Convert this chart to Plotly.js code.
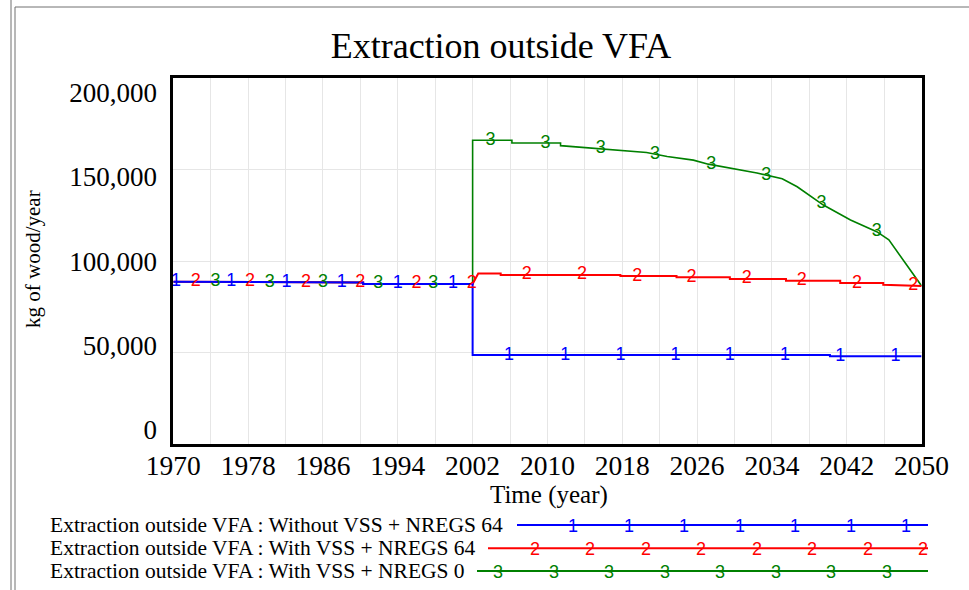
<!DOCTYPE html>
<html>
<head>
<meta charset="utf-8">
<script src="https://cdn.plot.ly/plotly-3.0.1.min.js"></script>
<style>
html,body{margin:0;padding:0;background:#fff;}
#chart{width:969px;height:590px;}
</style>
</head>
<body>
<div id="chart"></div>
<script>
// ---------------- DATA ----------------
const seriesNames = [
  "Extraction outside VFA : Without VSS + NREGS 64",
  "Extraction outside VFA : With VSS + NREGS 64",
  "Extraction outside VFA : With VSS + NREGS 0"
];
const seriesColors = ["#0000ff", "#ff0000", "#008000"];

// Series 1 : Without VSS + NREGS 64
const years1 = [1970, 1979.3, 1979.3, 1990.3, 1990.3, 2002, 2002, 2040.2, 2040.2, 2050];
const values1 = [88700, 88700, 88300, 88300, 87500, 87500, 48700, 48700, 48100, 48100];

// Series 2 : With VSS + NREGS 64
const years2 = [1970, 1979.3, 1979.3, 1990.3, 1990.3, 2002, 2002.6, 2005, 2005, 2017.8, 2017.8,
                2023.8, 2023.8, 2029.5, 2029.5, 2035.5, 2035.5, 2041.3, 2041.3, 2045.9, 2045.9, 2050];
const values2 = [88700, 88700, 88300, 88300, 87500, 87500, 93200, 93200, 92400, 92400, 91800,
                 91800, 91100, 91100, 90200, 90200, 89200, 89200, 88000, 88000, 87000, 86400];

// Series 3 : With VSS + NREGS 0
const years3 = [1970, 1979.3, 1979.3, 1990.3, 1990.3, 2002, 2002, 2006.2, 2006.2, 2011.4, 2011.4,
                2013.3, 2016.7, 2020.6, 2022.8, 2025.6, 2027.2, 2029.9, 2032.4, 2035.1, 2036.7,
                2039.5, 2042.4, 2045.2, 2046.5, 2050];
const values3 = [88700, 88700, 88300, 88300, 87500, 87500, 165800, 165800, 164300, 164300, 162900,
                 162200, 160600, 159200, 157000, 155000, 152800, 150500, 148000, 144800, 140500,
                 130500, 122400, 116000, 111500, 86400];

// Years where the numbered series markers sit along each line
const markerYears1 = [1970.3, 1976.2, 1982.1, 1988, 1994, 1999.9, 2005.9, 2011.9, 2017.8, 2023.7, 2029.5, 2035.4, 2041.3, 2047.2];
const markerYears2 = [1972.4, 1978.2, 1984.2, 1990, 1996, 2001.9, 2007.8, 2013.7, 2019.6, 2025.4, 2031.3, 2037.2, 2043.1, 2049.1];
const markerYears3 = [1974.5, 1980.3, 1986, 1991.9, 1997.8, 2003.9, 2009.8, 2015.7, 2021.5, 2027.5, 2033.4, 2039.3, 2045.2];

const yTickValues = [0, 50000, 100000, 150000, 200000];
const xTickValues = [1970, 1978, 1986, 1994, 2002, 2010, 2018, 2026, 2034, 2042, 2050];

// ---------------- helpers ----------------
const W = 969, H = 590;
const px = x => x / W;
const py = y => 1 - y / H;
function valueAt(xs, ys, t) {
  let v = ys[0];
  for (let i = 0; i < xs.length - 1; i++) {
    if (t >= xs[i] && t <= xs[i + 1]) {
      const d = xs[i + 1] - xs[i];
      v = d === 0 ? ys[i + 1] : ys[i] + (ys[i + 1] - ys[i]) * (t - xs[i]) / d;
      if (t < xs[i + 1]) break;
    }
  }
  return v;
}

const serif = "Liberation Serif, Times New Roman, serif";
const sans = "Liberation Sans, Arial, sans-serif";

const lineSets = [
  {x: years1, y: values1, m: markerYears1, label: "1", w: 2},
  {x: years2, y: values2, m: markerYears2, label: "2", w: 2},
  {x: years3, y: values3, m: markerYears3, label: "3", w: 1.6}
];

const traces = [];
[2, 1, 0].forEach(i => {
  const s = lineSets[i];
  traces.push({
    x: s.x, y: s.y, type: "scatter", mode: "lines",
    line: {color: seriesColors[i], width: s.w},
    hoverinfo: "skip", showlegend: false, name: seriesNames[i]
  });
});
[2, 1, 0].forEach(i => {
  const s = lineSets[i];
  traces.push({
    x: s.m, y: s.m.map(t => valueAt(s.x, s.y, t)),
    type: "scatter", mode: "text",
    text: s.m.map(() => s.label), textposition: "middle center",
    textfont: {family: sans, size: 18, color: seriesColors[i]},
    cliponaxis: false, hoverinfo: "skip", showlegend: false
  });
});
// empty trace carrying the tick-label axes
traces.push({x: [], y: [], xaxis: "x2", yaxis: "y2", type: "scatter", mode: "lines", showlegend: false, hoverinfo: "skip"});

// ---------------- layout ----------------
const plotL = 173.3, plotR = 921.6, plotT = 77.6, plotB = 444.4;
const gridColor = "#e6e6e6";

const shapes = [
  {type: "line", xref: "paper", yref: "paper", x0: px(11), x1: px(11), y0: py(0), y1: py(590), line: {color: "#707070", width: 1}},
  {type: "line", xref: "paper", yref: "paper", x0: px(15), x1: px(15), y0: py(7), y1: py(590), line: {color: "#707070", width: 1}},
  {type: "line", xref: "paper", yref: "paper", x0: px(15), x1: px(969), y0: py(7), y1: py(7), line: {color: "#707070", width: 1}}
];
const annotations = [
  {xref: "paper", yref: "paper", x: px(33), y: py(259), text: "kg of wood/year", textangle: -90,
   showarrow: false, font: {family: serif, size: 21, color: "#000"}, xanchor: "center", yanchor: "middle"},
  {xref: "paper", yref: "paper", x: px(549), y: py(495), text: "Time (year)",
   showarrow: false, font: {family: serif, size: 25, color: "#000"}, xanchor: "center", yanchor: "middle"}
];

const legendRows = [
  {y: 525, lineStart: 517, first: 573, count: 7},
  {y: 548.3, lineStart: 488, first: 534.5, count: 8},
  {y: 571, lineStart: 477, first: 498, count: 8}
];
const legendMarkStep = 55.5;
legendRows.forEach((r, i) => {
  shapes.push({type: "line", xref: "paper", yref: "paper", x0: px(r.lineStart), x1: px(928),
               y0: py(r.y), y1: py(r.y), line: {color: seriesColors[i], width: 2}});
  annotations.push({xref: "paper", yref: "paper", x: px(48), y: py(r.y), text: seriesNames[i],
                    showarrow: false, xanchor: "left", yanchor: "middle",
                    font: {family: serif, size: 21.5, color: "#000"}});
  for (let k = 0; k < r.count; k++) {
    annotations.push({xref: "paper", yref: "paper", x: px(r.first + k * legendMarkStep), y: py(r.y + 1),
                      text: String(i + 1), showarrow: false, xanchor: "center", yanchor: "middle",
                      font: {family: sans, size: 18, color: seriesColors[i]}});
  }
});

const labelPad0 = 14.4, labelPad1 = 14.8;
const plotH = plotB - plotT;
const span = 200000 * plotH / (plotH - labelPad0 - labelPad1);
const r0 = -labelPad0 / plotH * span;
const r1 = r0 + span;

const layout = {
  width: W, height: H,
  margin: {l: 0, r: 0, t: 0, b: 0, pad: 0},
  paper_bgcolor: "#fff", plot_bgcolor: "#fff",
  showlegend: false,
  title: {text: "Extraction outside VFA", x: px(501), y: py(45), xref: "container", yref: "container",
          xanchor: "center", yanchor: "middle", font: {family: serif, size: 36, color: "#000"}},
  xaxis: {
    domain: [px(plotL), px(plotR)], range: [1970, 2050], autorange: false,
    tickvals: xTickValues, showticklabels: false, ticks: "", showgrid: true, gridcolor: gridColor, gridwidth: 1,
    minor: {dtick: 4, tick0: 1970, showgrid: true, gridcolor: gridColor, gridwidth: 1},
    showline: true, mirror: true, linecolor: "#000", linewidth: 3, zeroline: false, automargin: false
  },
  xaxis2: {
    overlaying: "x", anchor: "free", position: py(446), side: "bottom",
    domain: [px(plotL + 2), px(plotR + 2)], range: [1970, 2050], autorange: false,
    tickvals: xTickValues, ticktext: xTickValues.map(String), ticks: "",
    showgrid: false, showline: false, zeroline: false,
    tickfont: {family: serif, size: 27.5, color: "#000"}, automargin: false
  },
  yaxis: {
    domain: [py(plotB), py(plotT)], range: [0, 200000], autorange: false,
    tickvals: yTickValues, showticklabels: false, ticks: "", showgrid: true, gridcolor: gridColor,
    showline: true, mirror: true, linecolor: "#000", linewidth: 3, zeroline: false, automargin: false
  },
  yaxis2: {
    overlaying: "y", anchor: "free", position: px(157), side: "left",
    domain: [py(plotB), py(plotT)], range: [r0, r1], autorange: false,
    tickvals: yTickValues, ticktext: yTickValues.map(v => v.toLocaleString("en-US")),
    ticks: "", showgrid: false, showline: false, zeroline: false,
    tickfont: {family: serif, size: 27, color: "#000"}, automargin: false
  },
  shapes: shapes,
  annotations: annotations
};

Plotly.newPlot("chart", traces, layout, {displayModeBar: false, staticPlot: true});
</script>
</body>
</html>
